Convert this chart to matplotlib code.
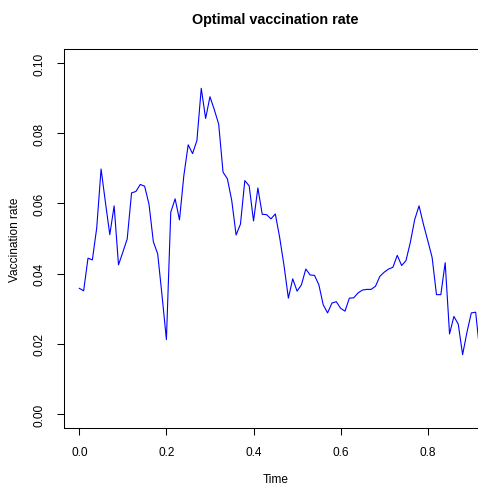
import matplotlib
matplotlib.use("Agg")
import matplotlib.pyplot as plt

plt.rcParams['font.family'] = ['Liberation Sans', 'DejaVu Sans']

rate = [0.0358, 0.0351, 0.0444, 0.0439, 0.0530, 0.0698, 0.0603, 0.0511, 0.0593, 0.0425,
        0.0461, 0.0499, 0.0630, 0.0634, 0.0654, 0.0649, 0.0598, 0.0491, 0.0456, 0.0337,
        0.0212, 0.0575, 0.0613, 0.0553, 0.0679, 0.0767, 0.0742, 0.0779, 0.0928, 0.0842,
        0.0904, 0.0867, 0.0826, 0.0689, 0.0670, 0.0608, 0.0510, 0.0541, 0.0665, 0.0650,
        0.0550, 0.0644, 0.0569, 0.0568, 0.0556, 0.0570, 0.0503, 0.0423, 0.0330, 0.0385,
        0.0350, 0.0368, 0.0413, 0.0396, 0.0395, 0.0368, 0.0311, 0.0288, 0.0316, 0.0320,
        0.0301, 0.0293, 0.0330, 0.0331, 0.0345, 0.0353, 0.0355, 0.0355, 0.0364, 0.0392,
        0.0404, 0.0413, 0.0418, 0.0452, 0.0423, 0.0437, 0.0489, 0.0554, 0.0593, 0.0541,
        0.0494, 0.0446, 0.0340, 0.0340, 0.0431, 0.0228, 0.0278, 0.0256, 0.0169, 0.0233,
        0.0288, 0.0290, 0.0170]
time = [i / 100 for i in range(len(rate))]

xticks = [0.0, 0.2, 0.4, 0.6, 0.8]
xticklabels = ["0.0", "0.2", "0.4", "0.6", "0.8"]
yticks = [0.00, 0.02, 0.04, 0.06, 0.08, 0.10]
yticklabels = ["0.00", "0.02", "0.04", "0.06", "0.08", "0.10"]

W, H = 478, 485
fig = plt.figure(figsize=(W / 100, H / 100), dpi=100)
left, right, top, bottom = 63.7, 487.0, 50.0, 429.0
ax = fig.add_axes([left / W, (H - bottom) / H, (right - left) / W, (bottom - top) / H])

ax.plot(time, rate, color='blue', lw=0.8)
ax.set_xlim(-0.0358, 0.936)
ax.set_ylim(-0.004, 0.104)

ax.set_xticks(xticks)
ax.set_xticklabels(xticklabels)
ax.set_yticks(yticks)
ax.set_yticklabels(yticklabels, rotation=90, va='center')

for s in ax.spines.values():
    s.set_linewidth(0.75)
    s.set_color('black')

ax.tick_params(axis='both', length=5.0, width=0.75, labelsize=8.6, colors='black')
ax.tick_params(axis='x', pad=8)
ax.tick_params(axis='y', pad=8)

cx = (left + right) / 2 / W
fig.text(cx, 1 - 20 / H, "Optimal vaccination rate", fontsize=10.4, fontweight='bold',
         ha='center', va='center')
fig.text(cx, 1 - 480 / H, "Time", fontsize=8.6, ha='center', va='center')
fig.text(15 / W, 1 - ((top + bottom) / 2) / H, "Vaccination rate", fontsize=8.6,
         ha='center', va='center', rotation=90)

fig.savefig("out.png", dpi=100)
